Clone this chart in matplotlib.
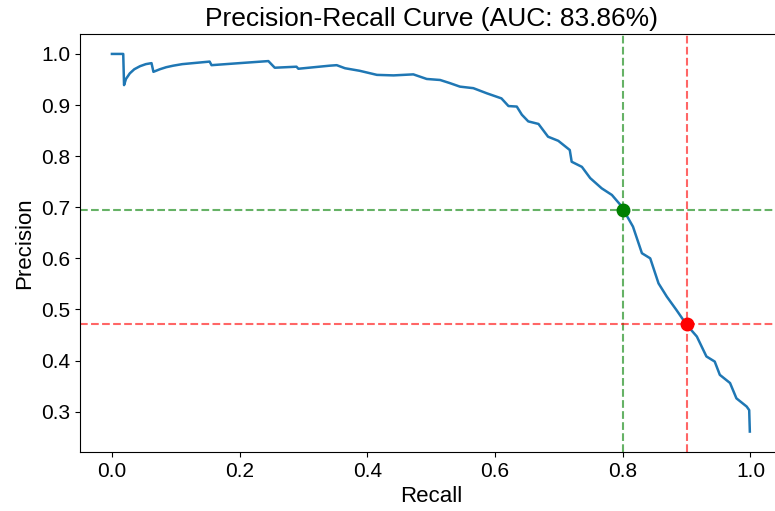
import numpy as np
import matplotlib
matplotlib.use("Agg")
import matplotlib.pyplot as plt

plt.rcParams['font.family'] = ['Liberation Sans', 'DejaVu Sans']

# points
recall = [0.0, 0.0177, 0.019, 0.022, 0.028, 0.035, 0.044, 0.053, 0.062, 0.065,
          0.075, 0.085, 0.096, 0.110, 0.127, 0.153,
          0.156, 0.200, 0.245, 0.255, 0.289, 0.292, 0.341, 0.352, 0.365, 0.388,
          0.415, 0.441, 0.472, 0.493, 0.514, 0.529, 0.545, 0.566, 0.587, 0.610,
          0.621, 0.634, 0.642, 0.652, 0.668, 0.683, 0.699, 0.717, 0.720, 0.736,
          0.749, 0.767, 0.783, 0.796, 0.801, 0.816, 0.830, 0.843, 0.856, 0.869,
          0.884, 0.900, 0.916, 0.931, 0.944, 0.952, 0.968, 0.978, 0.994, 0.998,
          0.999]
precision = [1.0, 1.0, 0.939, 0.951, 0.962, 0.970, 0.976, 0.980, 0.982, 0.965,
             0.970, 0.974, 0.977, 0.980, 0.982, 0.985,
             0.978, 0.982, 0.986, 0.973, 0.975, 0.971, 0.977, 0.978, 0.972, 0.967,
             0.959, 0.958, 0.960, 0.951, 0.949, 0.943, 0.936, 0.933, 0.923, 0.913,
             0.898, 0.897, 0.881, 0.868, 0.863, 0.838, 0.830, 0.812, 0.789, 0.779,
             0.757, 0.737, 0.724, 0.705, 0.695, 0.662, 0.610, 0.600, 0.551, 0.525,
             0.499, 0.470, 0.447, 0.408, 0.398, 0.372, 0.356, 0.326, 0.310, 0.303,
             0.261]

auc_pct = 83.86
op_green = (0.8, 0.694)
op_red = (0.9, 0.471)

fig = plt.figure(figsize=(7.75, 5.11), dpi=100)
ax = fig.add_axes([80/775, 59/511, 702.4/775, 418/511])

ax.plot(recall, precision, color='#1f77b4', lw=1.8)

#operating points
ax.axvline(op_green[0], color='green', linestyle='--', alpha=0.6, lw=1.5)
ax.axhline(op_green[1], color='green', linestyle='--', alpha=0.6, lw=1.5)
ax.plot(op_green[0], op_green[1], 'o', color='green', markersize=9)
ax.axvline(op_red[0], color='red', linestyle='--', alpha=0.6, lw=1.5)
ax.axhline(op_red[1], color='red', linestyle='--', alpha=0.6, lw=1.5)
ax.plot(op_red[0], op_red[1], 'o', color='red', markersize=9)

ax.set_xlim(-0.05, 1.05)
ax.set_ylim(0.221, 1.039)
ax.set_xticks([0.0, 0.2, 0.4, 0.6, 0.8, 1.0])
ax.set_yticks([0.3, 0.4, 0.5, 0.6, 0.7, 0.8, 0.9, 1.0])
ax.tick_params(labelsize=15)
ax.set_xlabel('Recall', fontsize=16)
ax.set_ylabel('Precision', fontsize=16)
ax.set_title('Precision-Recall Curve (AUC: %.2f%%)' % auc_pct, fontsize=19)

fig.savefig('out.png', dpi=100)
